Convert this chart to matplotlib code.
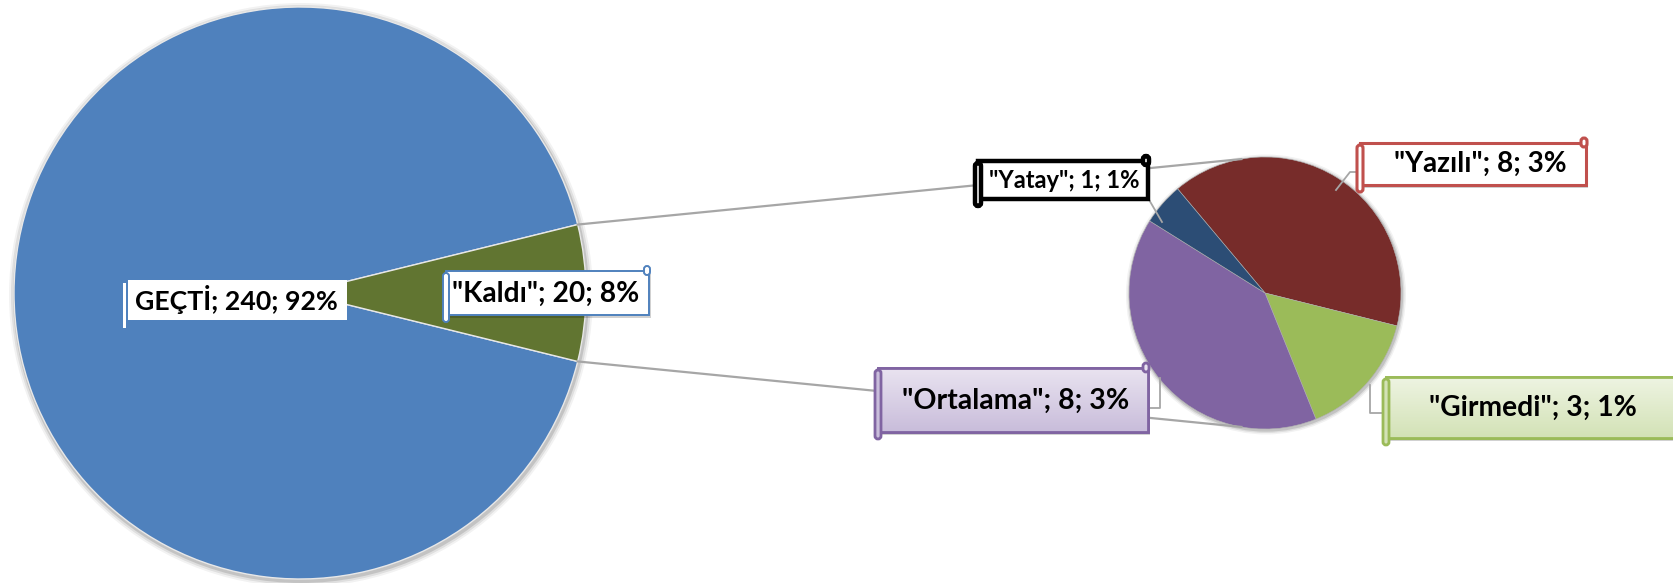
import matplotlib
matplotlib.use("Agg")
import matplotlib.pyplot as plt
import numpy as np
from matplotlib.patches import Rectangle, FancyBboxPatch, Circle
from matplotlib.colors import LinearSegmentedColormap

plt.rcParams['font.family'] = ['Lato', 'DejaVu Sans']

# data
main_names = ['GEÇTİ', '"Kaldı"']
main_values = [240, 20]
main_pcts = ['92%', '8%']
sub_names = ['"Yazılı"', '"Girmedi"', '"Ortalama"', '"Yatay"']
sub_values = [8, 3, 8, 1]
sub_pcts = ['3%', '1%', '3%', '1%']

main_colors = ['#4F81BD', '#617531']
sub_colors = ['#772C2A', '#9BBB59', '#8064A2', '#2C4D75']

W, H = 1673, 583
fig = plt.figure(figsize=(W / 100, H / 100), dpi=100)
ax = fig.add_axes([0, 0, 1, 1])


def Y(y):
    # pixel row (from top) -> data y
    return H - y


# main pie
mc, mr = (300, Y(293)), 286
half = 360 * main_values[1] / sum(main_values) / 2
for k, a in ((6, 0.05), (4, 0.08), (2, 0.12)):
    ax.add_patch(Circle((mc[0] + 1, mc[1] - 2), mr + k, color='black', alpha=a, lw=0, zorder=0))
ax.pie(main_values, colors=main_colors, center=mc, radius=mr, startangle=half,
       counterclock=True, wedgeprops=dict(edgecolor='#E8E8E8', linewidth=1.0))

# secondary pie
sc, sr = (1265, Y(293)), 136
for k, a in ((4, 0.05), (2.5, 0.08), (1.2, 0.12)):
    ax.add_patch(Circle((sc[0] + 1, sc[1] - 1.5), sr + k, color='black', alpha=a, lw=0, zorder=0))
ax.pie(sub_values, colors=sub_colors, center=sc, radius=sr, startangle=130,
       counterclock=False, wedgeprops=dict(edgecolor='#B0B0B0', linewidth=0.4))

# connector lines between the two pies
t = np.deg2rad(half)
p_top = (mc[0] + mr * np.cos(t), mc[1] + mr * np.sin(t))
p_bot = (mc[0] + mr * np.cos(t), mc[1] - mr * np.sin(t))
q_top = (sc[0] + sr * np.cos(np.deg2rad(100)), sc[1] + sr * np.sin(np.deg2rad(100)))
q_bot = (sc[0] + sr * np.cos(np.deg2rad(260)), sc[1] + sr * np.sin(np.deg2rad(260)))
for p, q in ((p_top, q_top), (p_bot, q_bot)):
    ax.plot([p[0], q[0]], [p[1], q[1]], color='#A6A6A6', lw=1.6, zorder=1)

# leader lines from labels to slices
leaders = [
    [(1148, 198), (1162, 222)],
    [(1357, 172), (1350, 172), (1336, 190)],
    [(1148, 408), (1160, 408), (1160, 378)],
    [(1383, 413), (1370, 413), (1370, 385)],
]
for pts in leaders:
    xs, ys = zip(*pts)
    ax.plot(xs, [Y(v) for v in ys], color='#A6A6A6', lw=1.3, zorder=1)


def scroll_box(x0, y0, x1, y1, edge, lw, face='white', grad=None, shadow=True):
    if shadow:
        ax.add_patch(Rectangle((x0 + 2, Y(y1 + 3)), x1 - x0, y1 - y0, color='black',
                               alpha=0.18, lw=0, zorder=3))
    body = Rectangle((x0, Y(y1)), x1 - x0, y1 - y0, facecolor=face, edgecolor=edge,
                     lw=lw, zorder=4)
    ax.add_patch(body)
    if grad is not None:
        cm = LinearSegmentedColormap.from_list('g', grad)
        im = ax.imshow(np.linspace(0, 1, 50).reshape(-1, 1), cmap=cm, aspect='auto',
                       extent=(x0, x1, Y(y1), Y(y0)), origin='upper', zorder=4.1)
        im.set_clip_path(body)
        ax.add_patch(Rectangle((x0, Y(y1)), x1 - x0, y1 - y0, fill=False, edgecolor=edge,
                               lw=lw, zorder=4.2))
    # left roll
    ax.add_patch(FancyBboxPatch((x0 - 3, Y(y1 + 7)), 6, y1 - y0 + 5,
                                boxstyle='round,pad=0,rounding_size=3',
                                facecolor=face if grad is None else grad[-1],
                                edgecolor=edge, lw=lw, zorder=4.5))
    # top right curl
    ax.add_patch(FancyBboxPatch((x1 - 5, Y(y0 + 4)), 6, 9,
                                boxstyle='round,pad=0,rounding_size=3',
                                facecolor=face if grad is None else grad[0],
                                edgecolor=edge, lw=lw, zorder=4.5))


def fit_text(x, y, s, width, **kw):
    txt = ax.text(x, Y(y), s, ha='center', va='center', fontweight='bold',
                  color='black', zorder=6, fontsize=16, **kw)
    r = fig.canvas.get_renderer()
    w = txt.get_window_extent(r).width
    txt.set_fontsize(16 * width / w)
    return txt


# GEÇTİ label: plain white box
ax.add_patch(Rectangle((128, Y(320)), 219, 40, facecolor='white', lw=0, zorder=4))
ax.add_patch(Rectangle((123, Y(328)), 3, 45, facecolor='white', lw=0, zorder=4))
fit_text(236, 299, f'{main_names[0]}; {main_values[0]}; {main_pcts[0]}', 203)

# Kaldı label
scroll_box(446, 271, 649, 315, '#4F81BD', 1.4)
fit_text(546, 294, f'{main_names[1]}; {main_values[1]}; {main_pcts[1]}', 187)

# secondary labels: (x0, y0, x1, y1, edge, lw, gradient, text centre, text width)
boxes = [
    (1360, 143, 1586, 185, '#C0504D', 2.2, None, (1480, 164), 172),
    (1386, 377, 1690, 438, '#9BBB59', 2.0, ['#EEF4E2', '#D3E2B6'], (1533, 408), 208),
    (878, 368, 1148, 432, '#8064A2', 2.0, ['#E9E3F0', '#C9BDDB'], (1016, 401), 227),
    (978, 161, 1148, 199, 'black', 3.2, None, (1064, 180), 151),
]
for i, (x0, y0, x1, y1, ec, lw, grad, tc, tw) in enumerate(boxes):
    scroll_box(x0, y0, x1, y1, ec, lw, grad=grad, shadow=(i != 3))
    fit_text(tc[0], tc[1], f'{sub_names[i]}; {sub_values[i]}; {sub_pcts[i]}', tw)

ax.set_xlim(0, W)
ax.set_ylim(0, H)
ax.set_aspect('auto')
ax.axis('off')
fig.savefig('out.png', dpi=100, facecolor='white')
